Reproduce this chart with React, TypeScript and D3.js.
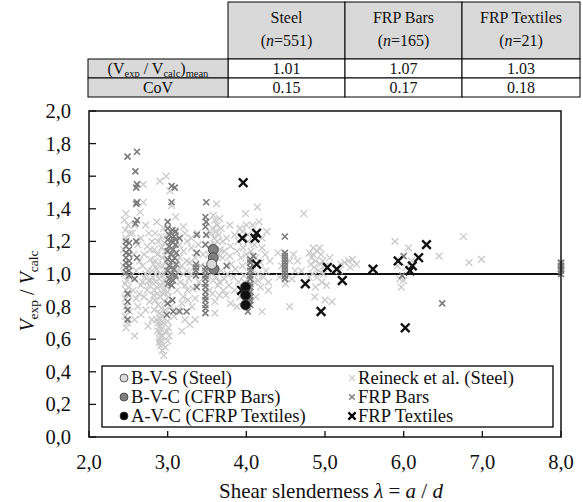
import React from 'react';
import * as d3 from 'd3';

// table values
const tableHeaders = ['Steel', 'FRP Bars', 'FRP Textiles'];
const tableN = [551, 165, 21];
const tableMean = ['1.01', '1.07', '1.03'];
const tableCoV = ['0.15', '0.17', '0.18'];

// Reineck et al. (Steel) – light grey crosses, [lambda, Vexp/Vcalc]
const steel: [number, number][] = [
  [2.47, 1.37], [2.45, 1.33], [2.5, 1.3], [2.46, 1.27], [2.52, 1.25], [2.47, 1.22], [2.44, 1.15], [2.52, 0.98],
  [2.48, 0.96], [2.46, 0.94], [2.5, 0.92], [2.47, 0.9], [2.51, 0.87], [2.46, 0.85], [2.49, 0.83], [2.47, 0.8],
  [2.52, 0.77], [2.46, 0.74], [2.49, 0.7], [2.47, 0.67], [2.58, 0.62], [2.44, 1.05], [2.45, 1.0],
  [2.69, 1.55], [2.69, 1.44], [2.65, 1.38], [2.72, 1.3], [2.66, 1.22], [2.74, 1.17], [2.7, 1.12], [2.78, 1.09],
  [2.68, 1.05], [2.75, 1.02], [2.71, 0.98], [2.79, 0.96], [2.66, 0.93], [2.74, 0.9], [2.7, 0.86], [2.77, 0.83],
  [2.72, 0.78], [2.66, 0.75], [2.8, 0.72], [2.75, 0.68], [2.62, 1.18], [2.64, 1.08],
  [2.76, 1.25], [2.8, 1.2], [2.78, 1.15], [2.76, 0.96], [2.72, 1.0], [2.68, 0.95], [2.64, 0.88], [2.6, 0.85],
  [2.62, 0.8], [2.58, 0.72], [2.56, 0.9], [2.6, 1.02], [2.57, 1.12], [2.55, 1.25], [2.58, 1.3],
  [2.86, 1.32], [2.9, 1.57], [2.98, 1.6], [3.03, 1.51], [2.84, 1.25], [2.88, 1.2], [2.92, 1.23], [2.95, 1.28],
  [2.83, 1.15], [2.87, 1.12], [2.93, 1.1], [2.97, 1.14], [2.82, 1.06], [2.86, 1.03], [2.9, 1.0], [2.94, 1.05],
  [2.98, 1.08], [2.81, 0.98], [2.85, 0.95], [2.89, 0.97], [2.92, 0.93], [2.96, 0.96], [2.83, 0.9], [2.87, 0.88],
  [2.91, 0.86], [2.95, 0.9], [2.99, 0.92], [2.84, 0.84], [2.88, 0.81], [2.92, 0.79], [2.96, 0.83], [3.01, 0.86],
  [2.9, 0.76], [2.9, 0.73], [2.91, 0.7], [2.9, 0.68], [2.92, 0.66], [2.9, 0.64], [2.91, 0.62], [2.9, 0.6],
  [2.92, 0.58], [2.91, 0.56], [2.93, 0.53], [2.95, 0.5], [2.98, 0.75], [3.0, 0.71], [3.01, 0.67], [3.02, 0.62],
  [3.0, 0.59], [2.86, 0.72], [2.83, 0.78],
  [2.84, 1.08], [2.88, 1.06], [2.92, 1.16], [2.96, 1.19], [3.0, 1.25], [3.02, 1.17], [2.97, 1.02], [2.93, 0.99],
  [2.99, 0.98], [3.03, 1.04], [2.85, 1.0], [2.8, 1.02], [2.77, 0.93], [2.82, 0.87], [2.86, 0.92], [2.94, 0.88],
  [3.0, 0.89], [3.04, 0.8], [2.97, 0.78], [2.93, 0.74], [2.88, 0.7], [2.95, 0.7], [2.99, 0.65], [2.94, 0.62],
  [2.89, 0.58], [2.97, 0.55], [2.87, 0.65],
  [3.1, 1.27], [3.15, 1.18], [3.2, 1.14], [3.25, 1.2], [3.3, 1.16], [3.35, 1.1], [3.12, 1.08], [3.18, 1.05],
  [3.24, 1.02], [3.28, 1.07], [3.33, 1.04], [3.39, 1.18], [3.1, 0.98], [3.16, 0.95], [3.22, 0.93], [3.27, 0.97],
  [3.32, 0.91], [3.12, 0.9], [3.2, 0.86], [3.26, 0.84], [3.31, 0.8], [3.18, 0.65], [3.35, 0.72], [3.14, 0.78],
  [3.08, 0.74], [3.22, 0.72], [3.28, 0.69], [3.1, 1.35], [3.05, 1.42], [3.2, 1.29],
  [3.15, 1.1], [3.2, 1.0], [3.24, 1.08], [3.3, 1.0], [3.14, 1.02], [3.18, 0.82], [3.25, 0.9], [3.35, 0.85],
  [3.4, 0.95], [3.42, 1.05], [3.38, 1.25], [3.3, 1.22], [3.22, 1.25],
  [3.62, 1.43], [3.58, 1.36], [3.6, 1.33], [3.63, 1.3], [3.57, 1.28], [3.61, 1.26], [3.65, 1.24], [3.59, 1.22],
  [3.63, 1.2], [3.66, 1.34], [3.55, 1.18], [3.67, 1.15], [3.52, 1.12], [3.7, 1.1], [3.54, 1.05], [3.68, 1.02],
  [3.5, 0.98], [3.58, 0.96], [3.64, 0.93], [3.71, 0.9], [3.66, 0.87], [3.74, 0.87], [3.6, 0.83], [3.6, 0.76],
  [3.53, 0.9], [3.45, 1.12], [3.47, 1.0],
  [3.55, 1.25], [3.6, 1.18], [3.64, 1.12], [3.68, 1.28], [3.7, 1.2], [3.72, 1.14], [3.56, 1.0], [3.62, 0.98],
  [3.66, 0.95], [3.57, 0.88], [3.72, 0.97], [3.75, 1.22], [3.76, 1.0],
  [3.79, 1.3], [3.85, 1.24], [3.9, 1.2], [3.8, 1.17], [3.79, 1.11], [3.81, 1.06], [3.88, 1.14], [3.93, 1.1],
  [3.86, 1.03], [3.95, 1.05], [3.84, 0.98], [3.9, 0.95], [3.97, 0.99], [3.78, 0.93], [3.85, 0.9], [3.92, 0.86],
  [3.8, 0.82], [3.88, 0.8], [3.99, 1.37], [4.0, 1.3], [3.96, 1.16], [4.02, 1.2],
  [3.92, 1.28], [3.95, 1.26], [4.0, 1.12], [4.04, 1.08], [3.98, 0.95], [4.02, 1.24], [4.08, 1.3], [4.12, 1.22],
  [4.2, 1.22], [4.25, 1.02], [4.15, 0.96], [4.05, 0.9],
  [4.14, 1.41], [4.16, 1.32], [4.26, 1.26], [4.1, 1.18], [4.2, 1.16], [4.06, 1.14], [4.12, 1.1], [4.18, 1.07],
  [4.24, 1.12], [4.3, 1.08], [4.08, 1.02], [4.15, 1.0], [4.22, 0.98], [4.28, 0.95], [4.1, 0.95], [4.18, 0.92],
  [4.28, 0.9], [4.12, 0.86], [4.2, 0.77], [4.04, 0.82],
  [4.45, 1.05], [4.55, 1.08], [4.6, 1.12], [4.42, 0.98], [4.58, 0.97], [4.5, 0.94], [4.62, 1.02], [4.55, 0.8],
  [4.4, 1.13],
  [4.73, 1.37], [4.85, 1.16], [4.9, 1.14], [4.95, 1.12], [4.83, 1.1], [4.88, 1.08], [4.94, 1.06], [4.86, 1.04],
  [4.92, 1.02], [4.98, 1.0], [4.84, 1.0], [4.9, 0.98], [4.96, 0.95], [5.02, 0.93], [4.88, 0.92], [4.87, 0.86],
  [5.0, 0.84], [5.09, 0.83], [5.06, 1.1], [4.8, 1.13], [5.0, 1.05],
  [4.85, 1.12], [4.82, 1.06], [4.93, 1.16], [4.97, 1.08], [4.8, 0.98], [4.7, 1.02], [4.65, 1.08],
  [5.2, 1.06], [5.25, 1.07], [5.3, 1.08], [5.35, 1.09], [5.4, 1.06], [5.18, 1.02], [5.32, 1.04],
  [5.89, 1.2], [6.06, 1.16], [6.45, 1.11], [5.97, 0.92], [5.95, 0.97], [6.0, 0.96], [6.1, 1.08], [6.03, 1.04],
  [5.92, 1.05],
  [6.76, 1.23], [6.83, 1.07], [6.99, 1.09],
  [8.0, 1.04], [8.0, 1.06],
];

// FRP Bars – mid grey crosses
const frpBars: [number, number][] = [
  [2.49, 1.72], [2.61, 1.75], [2.59, 1.63], [2.61, 1.55], [2.6, 1.53], [2.61, 1.44], [2.6, 1.43], [2.61, 1.33],
  [2.59, 1.31], [2.6, 1.2], [2.61, 1.1], [2.58, 0.97],
  [2.47, 1.2], [2.51, 1.19], [2.47, 1.17], [2.51, 1.15], [2.47, 1.13], [2.51, 1.12], [2.47, 1.1], [2.51, 1.08],
  [2.47, 1.07], [2.51, 1.05], [2.47, 1.04], [2.51, 1.02], [2.47, 1.01], [2.51, 0.99],
  [2.49, 0.88], [2.49, 0.83], [2.49, 0.78], [2.49, 0.72],
  [3.05, 1.54], [3.09, 1.53], [3.05, 1.44], [3.0, 1.32], [3.1, 1.21], [3.15, 1.22],
  [3.0, 1.28], [3.06, 1.27], [3.1, 1.26], [3.02, 1.24], [3.08, 1.23], [3.0, 1.21], [3.05, 1.2], [3.1, 1.18],
  [3.02, 1.17], [3.07, 1.15], [3.0, 1.14], [3.11, 1.13], [3.04, 1.12], [3.09, 1.1], [3.0, 1.09], [3.06, 1.08],
  [3.11, 1.06], [3.02, 1.05], [3.08, 1.03], [3.0, 1.02], [3.05, 1.0], [3.1, 0.99], [3.02, 0.97], [3.07, 0.96],
  [3.0, 0.94], [3.05, 0.93],
  [3.06, 0.84], [3.0, 0.82], [2.99, 0.75], [3.07, 0.77], [3.15, 0.77], [3.24, 0.77],
  [3.49, 1.44], [3.48, 1.35], [3.49, 1.32], [3.48, 1.29], [3.49, 1.24], [3.48, 1.18], [3.37, 1.24], [3.37, 1.13],
  [3.48, 1.04], [3.48, 1.02], [3.48, 0.99], [3.48, 0.97], [3.48, 0.94], [3.48, 0.92], [3.48, 0.89], [3.48, 0.86],
  [3.48, 0.84], [3.48, 0.81], [3.48, 0.79], [3.48, 0.76],
  [3.36, 1.06], [3.36, 1.04], [3.36, 1.02], [3.36, 0.99], [3.37, 0.92], [3.75, 1.05],
  [4.09, 1.11], [4.05, 1.09], [4.05, 1.07], [4.05, 1.04], [4.05, 1.02], [4.05, 0.99], [4.05, 0.97], [4.05, 0.94],
  [4.05, 0.92], [4.05, 0.89], [4.05, 0.86], [4.05, 0.84], [4.05, 0.81], [4.02, 0.77],
  [4.49, 1.23], [4.49, 1.13], [4.49, 1.11], [4.49, 1.09], [4.49, 1.07], [4.49, 1.05], [4.49, 1.03], [4.49, 1.01],
  [4.49, 0.99], [4.49, 0.97],
  [6.0, 1.11], [5.98, 0.99], [6.49, 0.82],
  [8.0, 1.0], [8.0, 1.02], [8.0, 1.03], [8.0, 1.05], [8.0, 1.07],
];

// FRP Textiles – black crosses
const frpTextiles: [number, number][] = [
  [3.96, 1.56], [3.95, 1.22], [4.13, 1.25], [4.11, 1.22], [4.13, 1.06], [3.94, 0.9], [4.75, 0.94], [5.03, 1.04],
  [4.95, 0.77], [5.15, 1.03], [5.22, 0.96], [5.61, 1.03], [5.93, 1.08], [6.29, 1.18], [6.19, 1.1], [6.11, 1.05],
  [6.08, 1.02], [6.02, 0.67],
];

// own tests
const bvs: [number, number][] = [[3.56, 1.06]];
const bvc: [number, number][] = [[3.58, 1.15], [3.58, 1.1], [3.59, 1.03]];
const avc: [number, number][] = [[3.99, 0.92], [3.99, 0.87], [3.99, 0.81]];

const xTicks = [2, 3, 4, 5, 6, 7, 8];
const yTicks = [0, 0.2, 0.4, 0.6, 0.8, 1.0, 1.2, 1.4, 1.6, 1.8, 2.0];

const W = 583;
const H = 502;
const txt = { fontFamily: 'Liberation Serif' };

const x = d3.scaleLinear().domain([2, 8]).range([89, 561]);
const y = d3.scaleLinear().domain([0, 2]).range([437, 111]);
const fmt = (v: number) => d3.format('.1f')(v).replace('.', ',');

const cross = (s: number) => `M${-s},${-s}L${s},${s}M${-s},${s}L${s},${-s}`;

const Crosses = ({ data, size, color, width }: { data: [number, number][]; size: number; color: string; width: number }) => (
  <g>
    {data.map((d, i) => (
      <path key={i} d={cross(size)} transform={`translate(${x(d[0])},${y(d[1])})`} stroke={color} strokeWidth={width} fill="none" />
    ))}
  </g>
);

const Dots = ({ data, fill }: { data: [number, number][]; fill: string }) => (
  <g>
    {data.map((d, i) => (
      <circle key={i} cx={x(d[0])} cy={y(d[1])} r={5} fill={fill} stroke="#3a3a3a" strokeWidth={0.8} />
    ))}
  </g>
);

const Table = () => {
  const cols = [88, 228, 345, 462, 580];
  const rows = [2, 59, 78, 97];
  const grey = '#d9d9d9';
  return (
    <g fontSize={16} fill="#111">
      {tableHeaders.map((h, i) => (
        <g key={h}>
          <rect x={cols[i + 1]} y={rows[0]} width={cols[i + 2] - cols[i + 1]} height={rows[1] - rows[0]} fill={grey} stroke="#000" strokeWidth={1} />
          <text style={txt} x={(cols[i + 1] + cols[i + 2]) / 2} y={23} textAnchor="middle">{h}</text>
          <text style={txt} x={(cols[i + 1] + cols[i + 2]) / 2} y={46} textAnchor="middle">
            (<tspan fontStyle="italic">n</tspan>=<tspan>{tableN[i]}</tspan>)
          </text>
          <rect x={cols[i + 1]} y={rows[1]} width={cols[i + 2] - cols[i + 1]} height={rows[2] - rows[1]} fill="#fff" stroke="#000" strokeWidth={1} />
          <text style={txt} x={(cols[i + 1] + cols[i + 2]) / 2} y={74} textAnchor="middle">{tableMean[i]}</text>
          <rect x={cols[i + 1]} y={rows[2]} width={cols[i + 2] - cols[i + 1]} height={rows[3] - rows[2]} fill="#fff" stroke="#000" strokeWidth={1} />
          <text style={txt} x={(cols[i + 1] + cols[i + 2]) / 2} y={93} textAnchor="middle">{tableCoV[i]}</text>
        </g>
      ))}
      <rect x={cols[0]} y={rows[1]} width={cols[1] - cols[0]} height={rows[2] - rows[1]} fill={grey} stroke="#000" strokeWidth={1} />
      <text style={txt} x={(cols[0] + cols[1]) / 2} y={74} textAnchor="middle">
        (V<tspan fontSize={10.5} dy={3}>exp</tspan>
        <tspan dy={-3}> / V</tspan>
        <tspan fontSize={10.5} dy={3}>calc</tspan>
        <tspan dy={-3}>)</tspan>
        <tspan fontSize={10.5} dy={3}>mean</tspan>
      </text>
      <rect x={cols[0]} y={rows[2]} width={cols[1] - cols[0]} height={rows[3] - rows[2]} fill={grey} stroke="#000" strokeWidth={1} />
      <text style={txt} x={(cols[0] + cols[1]) / 2} y={93} textAnchor="middle">CoV</text>
    </g>
  );
};

const Legend = () => {
  const rowsY = [378, 397, 416];
  const items1 = [
    { label: 'B-V-S (Steel)', fill: '#d9d9d9' },
    { label: 'B-V-C (CFRP Bars)', fill: '#808080' },
    { label: 'A-V-C (CFRP Textiles)', fill: '#000' },
  ];
  const items2 = [
    { label: 'Reineck et al. (Steel)', color: '#c8c8c8', size: 2.8, w: 1.2 },
    { label: 'FRP Bars', color: '#7a7a7a', size: 2.8, w: 1.4 },
    { label: 'FRP Textiles', color: '#000', size: 3.6, w: 2.2 },
  ];
  return (
    <g fontSize={18.6} fill="#111">
      <rect x={102} y={366} width={451} height={61} fill="#fff" stroke="#000" strokeWidth={1.3} />
      {items1.map((it, i) => (
        <g key={it.label}>
          <circle cx={124} cy={rowsY[i]} r={4} fill={it.fill} stroke="#3a3a3a" strokeWidth={0.8} />
          <text style={txt} x={131} y={rowsY[i] + 6}>{it.label}</text>
        </g>
      ))}
      {items2.map((it, i) => (
        <g key={it.label}>
          <path d={cross(it.size)} transform={`translate(${352},${rowsY[i]})`} stroke={it.color} strokeWidth={it.w} />
          <text style={txt} x={358} y={rowsY[i] + 6}>{it.label}</text>
        </g>
      ))}
    </g>
  );
};

export default function App() {
  return (
    <svg width={W} height={H} style={{ position: 'absolute', left: 0, top: 0, background: '#fff' }}>
      <Table />
      {/* reference line */}
      <line x1={x(2)} x2={x(8)} y1={y(1)} y2={y(1)} stroke="#111" strokeWidth={2} />
      <Crosses data={steel} size={3.4} color="#cacaca" width={1.3} />
      <Crosses data={frpBars} size={3.0} color="#7a7a7a" width={1.6} />
      <Crosses data={frpTextiles} size={4.3} color="#111" width={2.4} />
      <Dots data={bvc} fill="#808080" />
      <Dots data={bvs} fill="#d9d9d9" />
      <Dots data={avc} fill="#111" />
      {/* frame */}
      <rect x={x(2)} y={y(2)} width={x(8) - x(2)} height={y(0) - y(2)} fill="none" stroke="#111" strokeWidth={1.5} />
      {yTicks.map((t) => (
        <g key={t}>
          <line x1={x(2)} x2={x(2) + 7} y1={y(t)} y2={y(t)} stroke="#111" strokeWidth={1.3} />
          <text x={71} y={y(t) + 7} textAnchor="end" style={txt} fontSize={20.5} fill="#111">{fmt(t)}</text>
        </g>
      ))}
      {xTicks.map((t) => (
        <g key={t}>
          <line x1={x(t)} x2={x(t)} y1={y(0)} y2={y(0) - 6} stroke="#111" strokeWidth={1.3} />
          <text x={x(t)} y={469} textAnchor="middle" style={txt} fontSize={20.5} fill="#111">{fmt(t)}</text>
        </g>
      ))}
      <Legend />
      <text x={331} y={498} textAnchor="middle" style={txt} fontSize={21} fill="#111">
        Shear slenderness <tspan fontStyle="italic">λ</tspan> = <tspan fontStyle="italic">a</tspan> / <tspan fontStyle="italic">d</tspan>
      </text>
      <text transform="translate(34,291) rotate(-90)" textAnchor="middle" style={txt} fontSize={20} fill="#111">
        <tspan fontStyle="italic">V</tspan>
        <tspan fontSize={13.5} dy={4}>exp</tspan>
        <tspan dy={-4}> / </tspan>
        <tspan fontStyle="italic">V</tspan>
        <tspan fontSize={13.5} dy={4}>calc</tspan>
      </text>
    </svg>
  );
}
